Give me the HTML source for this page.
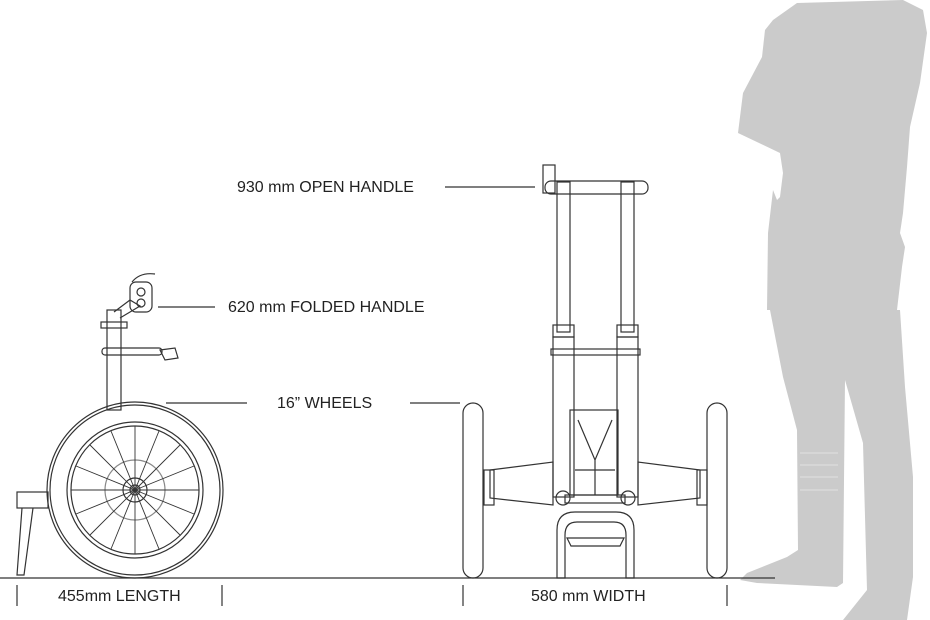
<!DOCTYPE html>
<html><head><style>
html,body{margin:0;padding:0;background:#fff;}
svg{display:block;}
text{font-family:"Liberation Sans",sans-serif;font-size:16px;fill:#222;}
</style></head><body>
<svg width="930" height="620" viewBox="0 0 930 620" xmlns="http://www.w3.org/2000/svg">
<!-- silhouette -->
<path fill="#cbcbcb" d="M773 20 L797 3 L903 0 L923 10 L927 33 L920 83 L910 127 L907 167 L903 213 L900 233 L905 247 L902 267 L897 310 L900 310 L905 387 L913 477 L913 577 L907 620 L843 620 L867 590 L863 443 L847 387 L845 380 L843 583 L837 587 L757 583 L740 580 L747 573 L787 557 L798 550 L797 430 L783 377 L770 310 L767 310 L768 233 L773 190 L777 200 L780 197 L783 173 L780 153 L738 133 L743 93 L762 57 L765 30 Z"/>
<g stroke="#e2e2e2" stroke-width="1">
<line x1="800" y1="453" x2="838" y2="453"/><line x1="800" y1="465" x2="838" y2="465"/>
<line x1="800" y1="477" x2="838" y2="477"/><line x1="800" y1="490" x2="838" y2="490"/>
</g>
<g stroke="#333" fill="none" stroke-width="1.2">
<line x1="0" y1="578" x2="775" y2="578"/>
<line x1="17" y1="585" x2="17" y2="606"/><line x1="222" y1="585" x2="222" y2="606"/>
<line x1="463" y1="585" x2="463" y2="606"/><line x1="727" y1="585" x2="727" y2="606"/>
<line x1="445" y1="187" x2="535" y2="187"/>
<line x1="158" y1="307" x2="215" y2="307"/>
<line x1="166" y1="403" x2="247" y2="403"/>
<line x1="410" y1="403" x2="460" y2="403"/>
<!-- left side view -->
<rect x="107" y="310" width="14" height="100"/>
<rect x="101" y="322" width="26" height="6"/>
<rect x="102" y="348" width="60" height="7" rx="3"/>
<path d="M160 350 L175 348 L178 358 L165 360 Z"/>
<path d="M114 312 L130 300 L140 306 L120 318"/>
<rect x="130" y="282" width="22" height="30" rx="6"/>
<circle cx="141" cy="292" r="4"/><circle cx="141" cy="303" r="4"/>
<path d="M132 282 Q140 272 155 274"/>
<circle cx="135" cy="490" r="88"/>
<circle cx="135" cy="490" r="85"/>
<circle cx="135" cy="490" r="68"/>
<circle cx="135" cy="490" r="64"/>
<circle cx="135" cy="490" r="12"/><circle cx="135" cy="490" r="5"/>
<circle cx="135" cy="490" r="30" stroke="#888"/>
<rect x="17" y="492" width="31" height="16"/>
<path d="M22 508 L17 575 L24 575 L33 508"/>
</g>
<g stroke="#333" stroke-width="0.9">
<line x1="135" y1="490" x2="199" y2="490"/><line x1="135" y1="490" x2="71" y2="490"/>
<line x1="135" y1="490" x2="135" y2="426"/><line x1="135" y1="490" x2="135" y2="554"/>
<line x1="135" y1="490" x2="180" y2="445"/><line x1="135" y1="490" x2="90" y2="535"/>
<line x1="135" y1="490" x2="90" y2="445"/><line x1="135" y1="490" x2="180" y2="535"/>
<line x1="135" y1="490" x2="194" y2="466"/><line x1="135" y1="490" x2="76" y2="514"/>
<line x1="135" y1="490" x2="194" y2="514"/><line x1="135" y1="490" x2="76" y2="466"/>
<line x1="135" y1="490" x2="159" y2="431"/><line x1="135" y1="490" x2="111" y2="549"/>
<line x1="135" y1="490" x2="111" y2="431"/><line x1="135" y1="490" x2="159" y2="549"/>
</g>
<!-- front view -->
<g stroke="#333" fill="none" stroke-width="1.2">
<rect x="463" y="403" width="20" height="175" rx="10"/>
<rect x="707" y="403" width="20" height="175" rx="10"/>
<rect x="545" y="181" width="103" height="13" rx="6"/>
<rect x="543" y="165" width="12" height="28"/>
<rect x="557" y="182" width="13" height="150"/>
<rect x="621" y="182" width="13" height="150"/>
<rect x="553" y="325" width="21" height="12"/><rect x="617" y="325" width="21" height="12"/>
<rect x="551" y="349" width="89" height="6"/>
<rect x="553" y="337" width="21" height="160"/>
<rect x="617" y="337" width="21" height="160"/>
<rect x="570" y="410" width="48" height="85"/>
<path d="M578 420 L595 460 L612 420 M595 460 L595 495 M575 470 L615 470"/>
<path d="M490 470 L553 462 L553 505 L490 498 Z"/>
<path d="M700 470 L638 462 L638 505 L700 498 Z"/>
<rect x="484" y="470" width="10" height="35"/><rect x="697" y="470" width="10" height="35"/>
<circle cx="563" cy="498" r="7"/><circle cx="628" cy="498" r="7"/>
<rect x="565" y="495" width="60" height="8"/>
<path d="M557 578 L557 530 Q557 512 575 512 L616 512 Q634 512 634 530 L634 578 L626 578 L626 535 Q626 522 614 522 L577 522 Q565 522 565 535 L565 578 Z"/>
<path d="M567 538 L624 538 L620 546 L571 546 Z"/>
</g>
<text x="237" y="192">930 mm OPEN HANDLE</text>
<text x="228" y="312">620 mm FOLDED HANDLE</text>
<text x="277" y="408">16” WHEELS</text>
<text x="58" y="601">455mm LENGTH</text>
<text x="531" y="601">580 mm WIDTH</text>
</svg>
</body></html>
